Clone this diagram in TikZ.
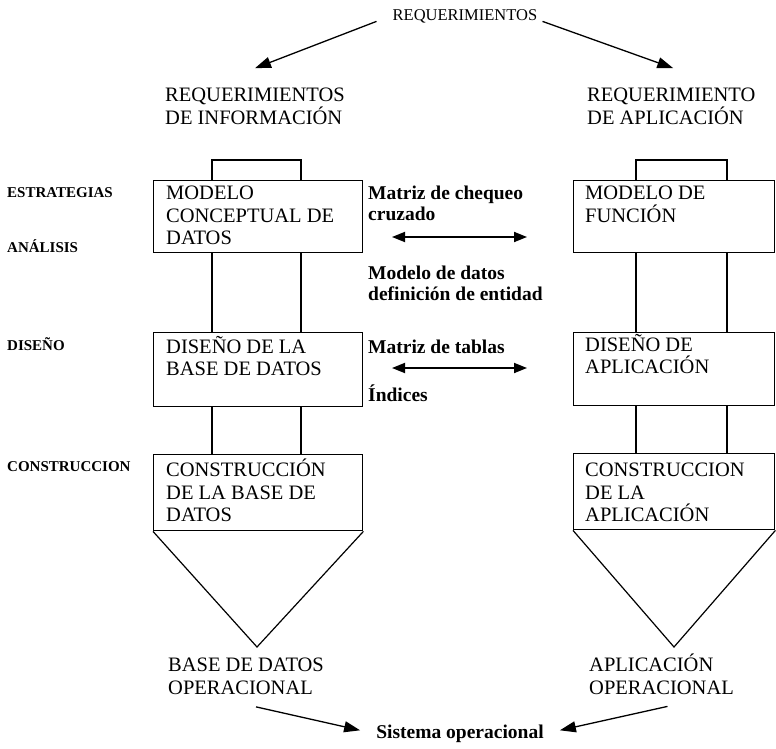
\documentclass[tikz,border=0pt]{standalone}
\usepackage{fontspec}
\setmainfont{Liberation Serif}
\usetikzlibrary{arrows.meta,positioning}
\newcommand{\fcaja}{\fontsize{20.5}{22.5}\selectfont}
\newcommand{\fmedio}{\fontsize{19.5}{21}\selectfont\bfseries}
\newcommand{\fetapa}{\fontsize{15}{17}\selectfont\bfseries}
\newcommand{\ftope}{\fontsize{16.5}{18}\selectfont}
\tikzset{
  caja/.style   ={draw, line width=1.4pt, anchor=north west, inner sep=0pt},
  txt/.style    ={font=\fcaja, align=left, inner sep=0pt, anchor=north west},
  med/.style    ={font=\fmedio, align=left, inner sep=0pt, anchor=north west},
  etapa/.style  ={font=\fetapa, inner sep=0pt, anchor=base west},
  flecha/.style ={line width=1.3pt, -{Triangle[length=16pt,width=11pt]}},
  doble/.style  ={line width=1.8pt, {Triangle[length=13pt,width=10pt]}-{Triangle[length=13pt,width=10pt]}},
  enlace/.style ={line width=1.2pt},
}

\begin{document}
\begin{tikzpicture}[x=1pt,y=-1pt]
  \useasboundingbox (0,0) rectangle (776,749);
  % cabecera
  \node[font=\ftope, inner sep=0pt, anchor=base] (req) at (465,20.5) {REQUERIMIENTOS};
  \node[txt] (hinf) at (165,88.2) {REQUERIMIENTOS\\DE INFORMACIÓN};
  \node[txt] (happ) at (587,88.2) {REQUERIMIENTO\\DE APLICACIÓN};
  \draw[flecha] ([shift={(-16,5)}]req.west) -- ([shift={(0,-20)}]hinf.north);
  \draw[flecha] ([shift={(5,5)}]req.east) -- ([shift={(2,-20)}]happ.north);

  % etapas
  \node[etapa] (est) at (7,197) {ESTRATEGIAS};
  \node[etapa] (ana) at (7,252) {ANÁLISIS};
  \node[etapa] (dis) at (7,350) {DISEÑO};
  \node[etapa] (con) at (7,471) {CONSTRUCCION};

  % columna de datos
  \node[caja, minimum width=209pt, minimum height=72pt] (mcd) at (153,180) {};
  \node[caja, minimum width=209pt, minimum height=74pt] (dbd) at (153,332) {};
  \node[caja, minimum width=209pt, minimum height=76pt] (cbd) at (153,454) {};
  \node[txt] (mcdt) at (166,186.2) {MODELO\\CONCEPTUAL DE\\DATOS};
  \node[txt] (dbdt) at (166,335.7) {DISEÑO DE LA\\BASE DE DATOS};
  \node[txt] (cbdt) at (166,458.7) {CONSTRUCCIÓN\\DE LA BASE DE\\DATOS};

  % columna de aplicacion
  \node[caja, minimum width=201pt, minimum height=72pt] (mf) at (573,180) {};
  \node[caja, minimum width=201pt, minimum height=73pt] (da) at (573,332) {};
  \node[caja, minimum width=201pt, minimum height=76pt] (ca) at (573,453) {};
  \node[txt] (mft) at (585,186.2) {MODELO DE\\FUNCIÓN};
  \node[txt] (dat) at (585,333.7) {DISEÑO DE\\APLICACIÓN};
  \node[txt] (cat) at (585,463.2) {CONSTRUCCION\\DE LA\\APLICACIÓN};

  % corchetes y enlaces verticales
  \draw[enlace] ([xshift=59pt]mcd.north west) -- ++(0,-20) -| ([xshift=148pt]mcd.north west);
  \draw[enlace] ([xshift=63pt]mf.north west) -- ++(0,-20) -| ([xshift=154pt]mf.north west);
  \foreach \a/\b in {mcd/dbd, dbd/cbd}
    \foreach \dx in {59,148}
      \draw[enlace] ([xshift=\dx pt]\a.south west) -- ([xshift=\dx pt]\b.north west);
  \foreach \a/\b in {mf/da, da/ca}
    \foreach \dx in {63,154}
      \draw[enlace] ([xshift=\dx pt]\a.south west) -- ([xshift=\dx pt]\b.north west);

  % embudos
  \coordinate (vbd) at (257,647);
  \coordinate (va) at (674,647);
  \draw[enlace] (cbd.south west) -- (vbd) -- (cbd.south east);
  \draw[enlace] (ca.south west) -- (va) -- (ca.south east);

  % textos centrales
  \node[med] (mcc) at (368,186) {Matriz de chequeo\\cruzado};
  \node[med] (mdd) at (368,266) {Modelo de datos\\definición de entidad};
  \node[med, anchor=base west] (mdt) at (368,353.5) {Matriz de tablas};
  \node[med, anchor=base west] (ind) at (368,401.5) {Índices};
  \coordinate (d1i) at (392,237);
  \coordinate (d1d) at (527,237);
  \coordinate (d2i) at (392,368);
  \coordinate (d2d) at (527,368);
  \draw[doble] (d1i) -- (d1d);
  \draw[doble] (d2i) -- (d2d);

  % resultado
  \node[txt] (bdo) at (168,658.2) {BASE DE DATOS\\OPERACIONAL};
  \node[txt] (apo) at (589,653.7) {APLICACIÓN\\OPERACIONAL};
  \node[font=\fmedio, inner sep=0pt, anchor=base] (sis) at (460,738) {Sistema operacional};
  \draw[flecha] ([shift={(10,12)}]bdo.south) -- ([shift={(-16,-3)}]sis.west);
  \draw[flecha] ([shift={(6,12)}]apo.south) -- ([shift={(16,-3)}]sis.east);
\end{tikzpicture}
\end{document}
